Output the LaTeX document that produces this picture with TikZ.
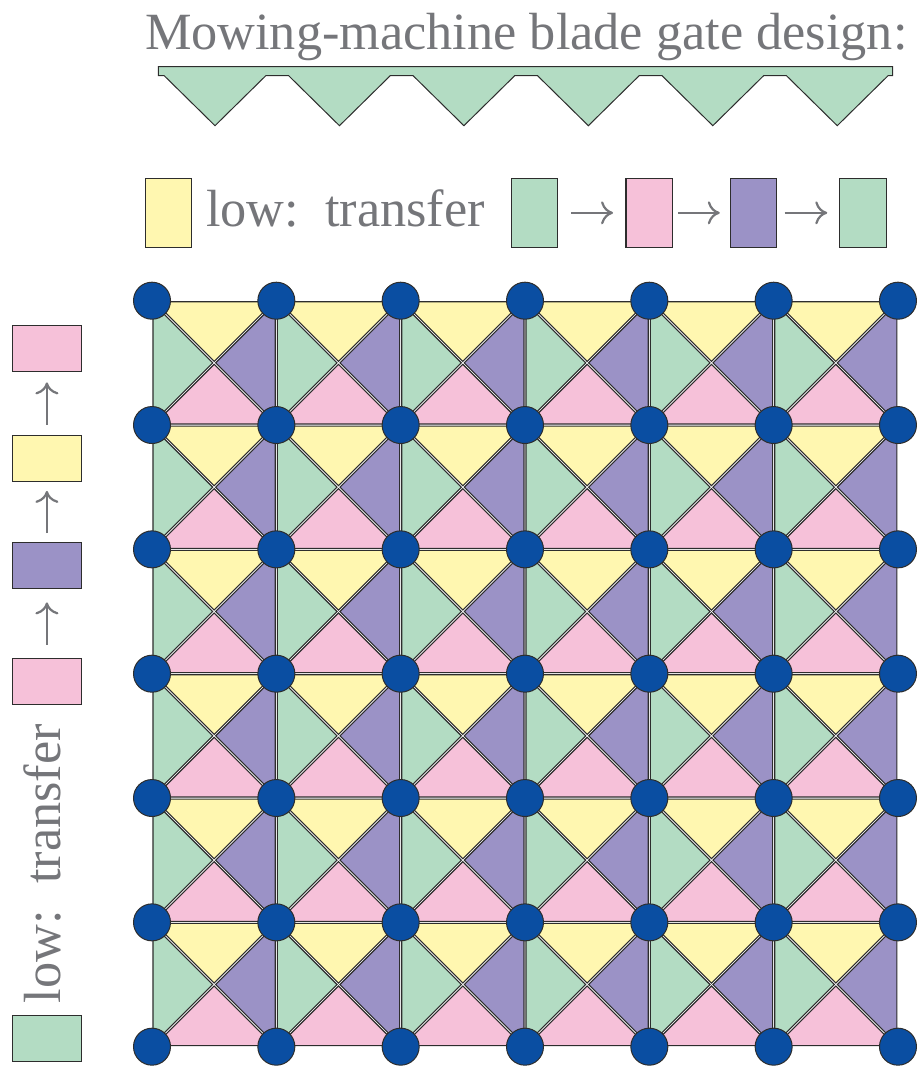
\documentclass[tikz,border=0pt]{standalone}
\usepackage{fontspec}
\setmainfont{Liberation Serif}
\usetikzlibrary{calc,arrows.meta}
\definecolor{cy}{RGB}{255,247,176}
\definecolor{cg}{RGB}{179,220,195}
\definecolor{cp}{RGB}{246,193,217}
\definecolor{cu}{RGB}{155,146,198}
\definecolor{cb}{RGB}{10,78,162}
\definecolor{ctext}{RGB}{117,118,122}
\definecolor{cline}{RGB}{45,45,45}
\begin{document}
\begin{tikzpicture}[x=1pt,y=-1pt,
  tri/.style={draw=cline, line width=1.1pt, line join=miter},
  dot/.style={circle, fill=cb, draw=cline, line width=1pt, minimum size=37pt, inner sep=0pt},
  legbox/.style={draw=cline, line width=1.2pt, minimum width=46.3pt, minimum height=69.1pt, inner sep=0pt, outer sep=0pt},
  legboxh/.style={draw=cline, line width=1.2pt, minimum width=69.1pt, minimum height=45.8pt, inner sep=0pt, outer sep=0pt},
  legtext/.style={text=ctext, font=\fontsize{52.3}{60}\selectfont, inner sep=0pt, outer sep=0pt},
  legarrow/.style={draw=ctext, line width=2.2pt, -{Computer Modern Rightarrow[length=12pt,width=23pt]}},
  blade/.style={fill=cg, draw=cline, line width=1pt, line join=miter},
]
\useasboundingbox (0,0) rectangle (923,1067);

% title
\node[legtext, anchor=base west] (title) at (145,49.3) {Mowing-machine blade gate design:};

% blade
\draw[blade] (158.3,66.7) -- (892.7,66.7) -- (892.7,75.7) -- (888.05,75.7) -- (837.25,125.7) -- (786.45,75.7)
  -- (763.6,75.7) -- (712.8,125.7) -- (662.0,75.7) -- (639.15,75.7) -- (588.35,125.7) -- (537.55,75.7)
  -- (514.7,75.7) -- (463.9,125.7) -- (413.1,75.7) -- (390.25,75.7) -- (339.45,125.7) -- (288.65,75.7)
  -- (265.8,75.7) -- (215,125.7) -- (164.2,75.7) -- (158.3,75.7) -- cycle;

% top legend
\node[legbox, fill=cy] (ly) at (168.5,212.85) {};
\node[legtext, anchor=base west] (lt) at (206,226) {low:~~transfer};
\node[legbox, fill=cg] (lg1) at (534.5,212.85) {};
\node[legbox, fill=cp] (lp1) at (649.2,212.85) {};
\node[legbox, fill=cu] (lu1) at (753.65,212.85) {};
\node[legbox, fill=cg] (lg2) at (863,212.85) {};
\draw[legarrow, shorten <=13.4pt, shorten >=13pt] (lg1.east) -- (lp1.west);
\draw[legarrow, shorten <=6pt, shorten >=10.7pt] (lp1.east) -- (lu1.west);
\draw[legarrow, shorten <=7.7pt, shorten >=12.6pt] (lu1.east) -- (lg2.west);

% left legend
\node[legboxh, fill=cg] (vg) at (46.9,1038.5) {};
\node[legtext, anchor=base west, rotate=90] (vt) at (60.5,1003) {low:~~transfer};
\node[legboxh, fill=cp] (vp1) at (46.9,681.5) {};
\node[legboxh, fill=cu] (vu) at (46.9,565.5) {};
\node[legboxh, fill=cy] (vy) at (46.9,458.5) {};
\node[legboxh, fill=cp] (vp2) at (46.9,348.5) {};
\draw[legarrow, shorten <=14pt, shorten >=14pt] (vp1.north) -- (vu.south);
\draw[legarrow, shorten <=9.5pt, shorten >=9.5pt] (vu.north) -- (vy.south);
\draw[legarrow, shorten <=11pt, shorten >=11pt] (vy.north) -- (vp2.south);

% grid triangles
\def\ga{59.63}\def\gb{61.12}\def\ge{1.48}
\foreach \i in {0,...,5}{
  \foreach \j in {0,...,5}{
    \begin{scope}[shift={({214.165+124.33*\i},{362.865+124.33*\j})}]
      \filldraw[tri, fill=cy] (-\ga,-\gb) -- (\ga,-\gb) -- (0,-\ge) -- cycle;
      \filldraw[tri, fill=cp] (-\ga,\gb) -- (\ga,\gb) -- (0,\ge) -- cycle;
      \filldraw[tri, fill=cg] (-\gb,-\ga) -- (-\gb,\ga) -- (-\ge,0) -- cycle;
      \filldraw[tri, fill=cu] (\gb,-\ga) -- (\gb,\ga) -- (\ge,0) -- cycle;
    \end{scope}
  }
}
% grid dots
\foreach \i in {0,...,6}{
  \foreach \j in {0,...,6}{
    \node[dot] (d-\i-\j) at ({152+124.33*\i},{300.7+124.33*\j}) {};
  }
}
\end{tikzpicture}
\end{document}
